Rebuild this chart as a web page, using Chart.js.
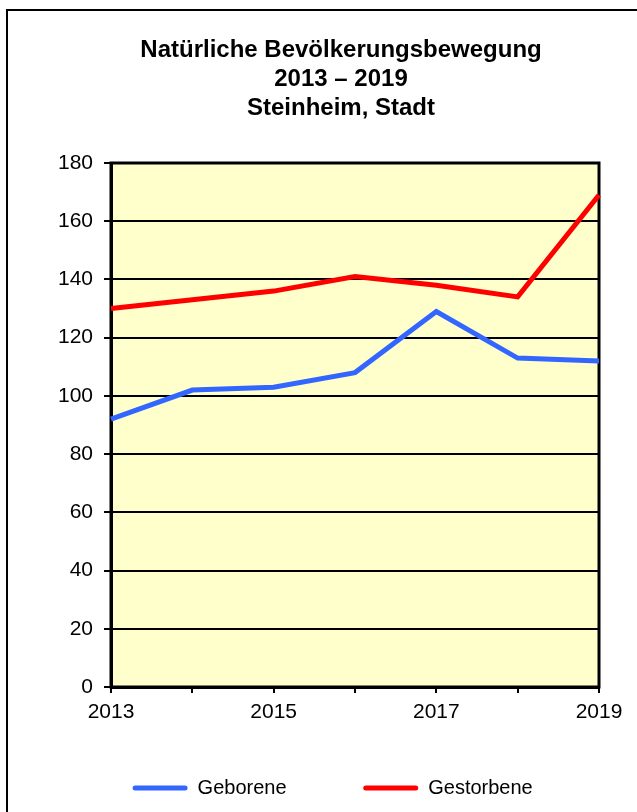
<!DOCTYPE html>
<html>
<head>
<meta charset="utf-8">
<script src="https://cdn.jsdelivr.net/npm/chart.js@4.4.1/dist/chart.umd.min.js"></script>
<style>
  html, body { margin: 0; padding: 0; background: #fff; overflow: hidden; }
  #frame { position: absolute; left: 6px; top: 9px; width: 700px; height: 900px; border: 2px solid #000; }
  #chart { position: absolute; left: 0; top: 0; }
</style>
</head>
<body>
<div id="frame"></div>
<canvas id="chart" width="637" height="812"></canvas>
<script>
const years = ['2013', '2014', '2015', '2016', '2017', '2018', '2019'];
const geborene = [92, 102, 103, 108, 129, 113, 112];
const gestorbene = [130, 133, 136, 141, 138, 134, 169];
const seriesNames = ['Geborene', 'Gestorbene'];
const titleLines = ['Natürliche Bevölkerungsbewegung', '2013 – 2019', 'Steinheim, Stadt'];
const yMin = 0, yMax = 180, yStep = 20;

Chart.defaults.font.family = '"Liberation Sans", Arial, sans-serif';
Chart.defaults.color = '#000';

// light yellow plot area with a black frame round it
const plotFrame = {
    id: 'plotFrame',
    beforeDraw(chart) {
        const a = chart.chartArea, ctx = chart.ctx;
        ctx.save();
        ctx.fillStyle = '#FFFFCC';
        ctx.fillRect(a.left, a.top, a.right - a.left, a.bottom - a.top);
        ctx.restore();
    },
    beforeDatasetsDraw(chart) {
        const a = chart.chartArea, ctx = chart.ctx;
        ctx.save();
        ctx.strokeStyle = '#000';
        ctx.lineWidth = 3;
        ctx.strokeRect(a.left, a.top, a.right - a.left, a.bottom - a.top);
        ctx.restore();
    }
};

// extra spaces only widen the legend entries to get the wide gap
const legendPad = [12, 3];

new Chart(document.getElementById('chart'), {
    type: 'line',
    data: {
        labels: years,
        datasets: [{
            label: seriesNames[0],
            data: geborene,
            borderColor: '#3366FF',
            backgroundColor: '#3366FF',
            borderWidth: 5,
            pointRadius: 0,
            tension: 0
        }, {
            label: seriesNames[1],
            data: gestorbene,
            borderColor: '#FF0000',
            backgroundColor: '#FF0000',
            borderWidth: 5,
            pointRadius: 0,
            tension: 0
        }]
    },
    options: {
        responsive: false,
        animation: false,
        devicePixelRatio: 1,
        layout: { padding: { left: 57, right: 12, top: 0, bottom: 4 } },
        plugins: {
            title: {
                display: true,
                text: titleLines,
                color: '#000',
                font: { size: 24, weight: 'bold', lineHeight: 1.2167 },
                padding: { top: 35.7, bottom: 39.7 }
            },
            legend: {
                position: 'bottom',
                labels: {
                    font: { size: 20 },
                    boxWidth: 55,
                    boxHeight: 5,
                    padding: 10,
                    useBorderRadius: true,
                    borderRadius: 2.5,
                    generateLabels(chart) {
                        return Chart.defaults.plugins.legend.labels.generateLabels(chart).map((item, i) => ({
                            ...item,
                            text: item.text + ' '.repeat(legendPad[i]),
                            lineWidth: 0
                        }));
                    }
                }
            },
            tooltip: { enabled: false }
        },
        scales: {
            x: {
                afterFit(scale) { scale.height = 81; scale.paddingRight = 38; },
                grid: { drawOnChartArea: false, color: '#000', lineWidth: 2, tickLength: 6 },
                border: { color: '#000', width: 3 },
                ticks: {
                    autoSkip: false,
                    maxRotation: 0,
                    padding: 7,
                    font: { size: 21 },
                    callback(value, index) { return index % 2 === 0 ? years[index] : ''; }
                }
            },
            y: {
                min: yMin,
                max: yMax,
                afterFit(scale) { scale.width = 54; },
                grid: { color: '#000', lineWidth: 2, tickLength: 7 },
                border: { color: '#000', width: 3 },
                ticks: { stepSize: yStep, padding: 11, font: { size: 21 } }
            }
        }
    },
    plugins: [plotFrame]
});
</script>
</body>
</html>
